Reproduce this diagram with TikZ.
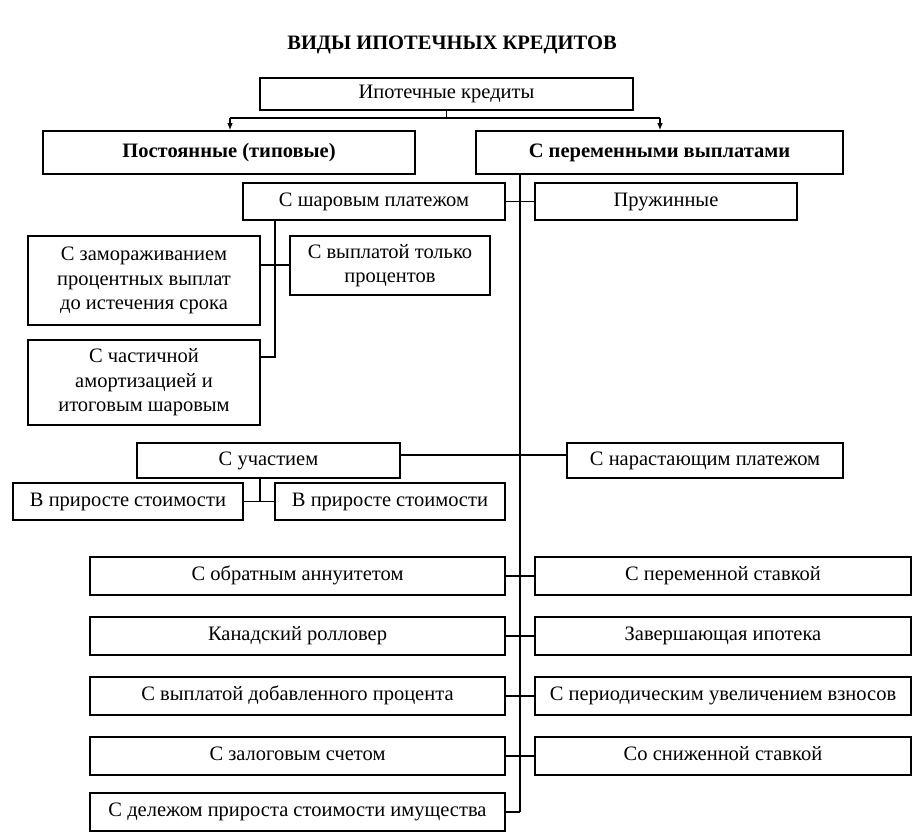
\documentclass[tikz,border=0pt]{standalone}
\usepackage{fontspec}
\setmainfont{Liberation Serif}
\usetikzlibrary{arrows.meta,calc}
\begin{document}
\begin{tikzpicture}[x=1pt,y=-1pt,
  bx/.style={draw,line width=1.6pt,align=center,inner sep=2pt,font=\fontsize{20.5}{24.5}\selectfont},
  sl/.style={bx,text height=14pt,text depth=4.5pt},
  bbx/.style={sl,font=\fontsize{20.5}{24.5}\selectfont\bfseries},
  ln/.style={line width=1.3pt},
  ar/.style={ln,-{Latex[length=7pt,width=5.5pt]}}]
\useasboundingbox (0,0) rectangle (912,831);
\node[font=\fontsize{20.5}{24}\selectfont\bfseries] (title) at (452,45) {ВИДЫ ИПОТЕЧНЫХ КРЕДИТОВ};
\node[sl,minimum width=373pt,minimum height=32pt] (top) at (446.5,94) {Ипотечные кредиты};
\node[bbx,minimum width=372pt,minimum height=43pt] (post) at (229,152.5) {Постоянные (типовые)};
\node[bbx,minimum width=367pt,minimum height=43pt] (perem) at (659.5,152.5) {С переменными выплатами};
\node[sl,minimum width=262pt,minimum height=37pt] (shar) at (374,201.5) {С шаровым платежом};
\node[sl,minimum width=262pt,minimum height=37pt] (pruzh) at (666,201.5) {Пружинные};
\node[bx,minimum width=232pt,minimum height=89pt] (zamor) at (144,280.5) {С замораживанием\\процентных выплат\\до истечения срока};
\node[bx,minimum width=200pt,minimum height=59pt] (tolko) at (390,265.5) {С выплатой только\\процентов};
\node[bx,minimum width=232pt,minimum height=85pt] (chast) at (144,382.5) {С частичной\\амортизацией и\\итоговым шаровым};
\node[sl,minimum width=263pt,minimum height=35pt] (uchast) at (268.5,460.5) {С участием};
\node[sl,minimum width=276pt,minimum height=35pt] (narast) at (705,460.5) {С нарастающим платежом};
\node[sl,minimum width=230pt,minimum height=37pt] (prir1) at (128,501.5) {В приросте стоимости};
\node[sl,minimum width=230pt,minimum height=37pt] (prir2) at (390,501.5) {В приросте стоимости};
\node[sl,minimum width=415pt,minimum height=38pt] (l1) at (297.5,576) {С обратным аннуитетом};
\node[sl,minimum width=415pt,minimum height=38pt] (l2) at (297.5,636) {Канадский ролловер};
\node[sl,minimum width=415pt,minimum height=38pt] (l3) at (297.5,696) {С выплатой добавленного процента};
\node[sl,minimum width=415pt,minimum height=38pt] (l4) at (297.5,756) {С залоговым счетом};
\node[sl,minimum width=415pt,minimum height=38pt] (l5) at (297.5,812) {С дележом прироста стоимости имущества};
\node[sl,minimum width=376pt,minimum height=38pt] (r1) at (723,576) {С переменной ставкой};
\node[sl,minimum width=376pt,minimum height=38pt] (r2) at (723,636) {Завершающая ипотека};
\node[sl,minimum width=376pt,minimum height=38pt] (r3) at (723,696) {С периодическим увеличением взносов};
\node[sl,minimum width=376pt,minimum height=38pt] (r4) at (723,756) {Со сниженной ставкой};
% connectors
\coordinate (j0) at (top.south |- 0,118);
\coordinate (jl) at (230,118);
\coordinate (jr) at (660,118);
\draw[ln] (top.south) -- (j0);
\draw[ln] (jl) -- (jr);
\draw[ar] (jl) -- (jl |- post.north);
\draw[ar] (jr) -- (jr |- perem.north);
\coordinate (tk0) at (520,0 |- perem.south);
\coordinate (tk1) at (520,812);
\draw[ln] (tk0) -- (tk1);
\draw[ln] (shar) -- (pruzh);
\coordinate (s0) at (275,0 |- shar.south);
\coordinate (s1) at (275,357);
\draw[ln] (s0) -- (s1) -- (s1 -| chast.east);
\draw[ln] (zamor.east |- 0,265) -- (tolko.west |- 0,265);
\draw[ln] (uchast.east |- 0,455) -- (narast.west |- 0,455);
\coordinate (u0) at (260,0 |- uchast.south);
\draw[ln] (u0) -- (260,501);
\draw[ln] (prir1) -- (prir2);
\draw[ln] (l1) -- (r1);
\draw[ln] (l2) -- (r2);
\draw[ln] (l3) -- (r3);
\draw[ln] (l4) -- (r4);
\draw[ln] (l5) -- (tk1);
\end{tikzpicture}
\end{document}
